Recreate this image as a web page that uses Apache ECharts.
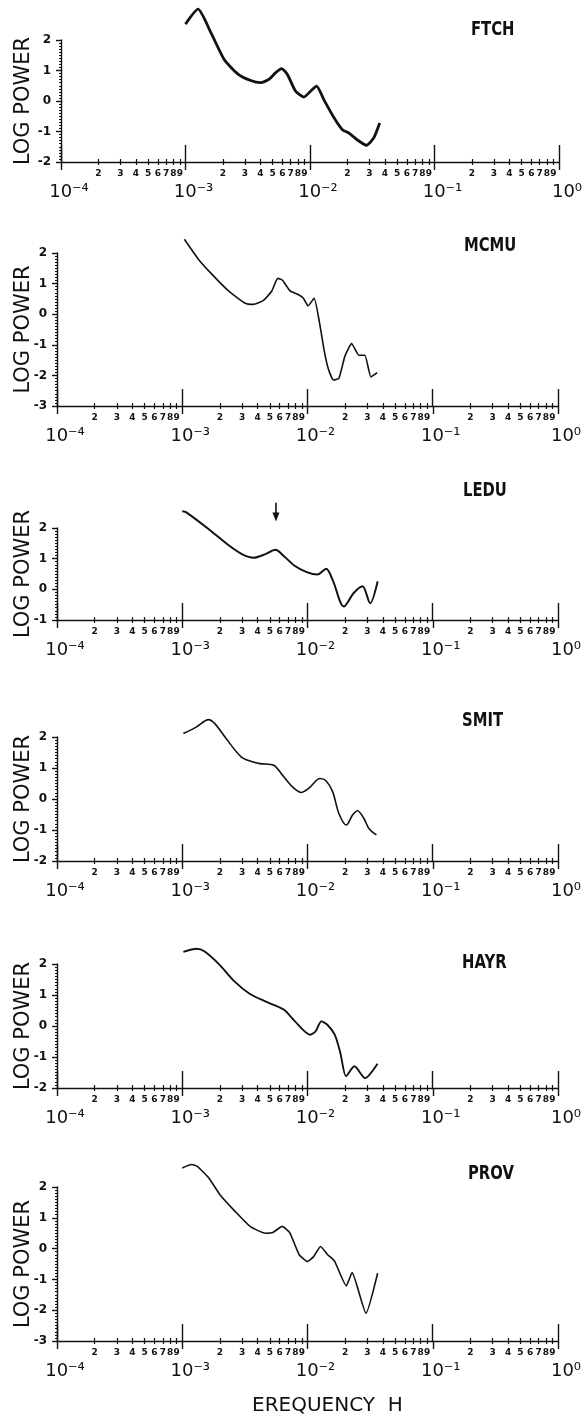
<!DOCTYPE html>
<html>
<head>
<meta charset="utf-8">
<script src="https://cdn.jsdelivr.net/npm/echarts@6/dist/echarts.min.js"></script>
<style>
html,body{margin:0;padding:0;background:#fff;}
#c{width:588px;height:1418px;}
</style>
</head>
<body>
<div id="c"></div>
<script>
// ---------- data ----------
const STATIONS = ['FTCH', 'MCMU', 'LEDU', 'SMIT', 'HAYR', 'PROV'];
const Y_MIN = [-2, -3, -1, -2, -2, -3];
const Y_MAX = [2, 2, 2, 2, 2, 2];
const DECADES = [1e-4, 1e-3, 1e-2, 1e-1, 1];
const DECADE_LABELS = ['10⁻⁴', '10⁻³', '10⁻²', '10⁻¹', '10⁰'];
const MINOR_DIGITS = ['2', '3', '4', '5', '6', '7', '8', '9'];
const Y_NAME = 'LOG POWER';
const X_NAME = 'EREQUENCY  H';

const FTCH_F = [1.00e-3, 1.26e-3, 1.60e-3, 2.04e-3, 2.61e-3, 3.34e-3, 4.02e-3, 4.68e-3, 5.30e-3, 5.92e-3, 6.58e-3, 7.67e-3, 8.93e-3, 1.01e-2, 1.13e-2, 1.29e-2, 1.56e-2, 1.82e-2, 2.05e-2, 2.39e-2, 2.84e-2, 3.25e-2, 3.63e-2];
const FTCH_P = [2.52, 3.01, 2.24, 1.37, 0.90, 0.67, 0.60, 0.71, 0.93, 1.06, 0.87, 0.32, 0.13, 0.32, 0.49, 0.05, -0.55, -0.94, -1.05, -1.27, -1.45, -1.21, -0.72];

const MCMU_F = [1.04e-3, 1.35e-3, 1.73e-3, 2.34e-3, 3.18e-3, 3.70e-3, 4.45e-3, 5.19e-3, 5.79e-3, 6.31e-3, 7.26e-3, 8.36e-3, 9.27e-3, 1.01e-2, 1.13e-2, 1.24e-2, 1.36e-2, 1.47e-2, 1.61e-2, 1.78e-2, 1.99e-2, 2.25e-2, 2.57e-2, 2.87e-2, 3.21e-2, 3.60e-2];
const MCMU_P = [2.45, 1.79, 1.30, 0.76, 0.36, 0.32, 0.45, 0.76, 1.17, 1.11, 0.76, 0.65, 0.52, 0.27, 0.52, -0.22, -1.20, -1.80, -2.15, -2.10, -1.37, -0.96, -1.34, -1.34, -2.05, -1.91];

const LEDU_F = [1.00e-3, 1.07e-3, 1.62e-3, 2.29e-3, 3.02e-3, 3.72e-3, 4.57e-3, 5.55e-3, 6.46e-3, 7.94e-3, 9.86e-3, 1.20e-2, 1.41e-2, 1.59e-2, 1.95e-2, 2.34e-2, 2.75e-2, 3.16e-2, 3.63e-2];
const LEDU_P = [2.55, 2.52, 1.97, 1.47, 1.14, 1.03, 1.14, 1.29, 1.09, 0.76, 0.56, 0.48, 0.67, 0.30, -0.56, -0.12, 0.10, -0.45, 0.26];
const LEDU_ARROW_F = [5.6e-3, 5.6e-3];
const LEDU_ARROW_P = [2.82, 2.36];

const SMIT_F = [1.02e-3, 1.29e-3, 1.62e-3, 1.82e-3, 2.24e-3, 2.95e-3, 3.63e-3, 4.17e-3, 5.37e-3, 6.31e-3, 7.59e-3, 8.91e-3, 1.02e-2, 1.26e-2, 1.41e-2, 1.59e-2, 1.78e-2, 2.04e-2, 2.29e-2, 2.51e-2, 2.82e-2, 3.09e-2, 3.55e-2];
const SMIT_P = [2.11, 2.32, 2.56, 2.43, 1.95, 1.36, 1.20, 1.14, 1.09, 0.77, 0.39, 0.21, 0.34, 0.66, 0.58, 0.23, -0.47, -0.84, -0.52, -0.38, -0.63, -0.95, -1.16];

const HAYR_F = [1.02e-3, 1.30e-3, 1.50e-3, 1.98e-3, 2.61e-3, 3.45e-3, 4.56e-3, 6.46e-3, 7.94e-3, 1.05e-2, 1.16e-2, 1.29e-2, 1.44e-2, 1.65e-2, 1.83e-2, 2.03e-2, 2.37e-2, 2.88e-2, 3.62e-2];
const HAYR_P = [2.39, 2.49, 2.41, 1.98, 1.44, 1.04, 0.80, 0.53, 0.15, -0.28, -0.17, 0.15, 0.04, -0.28, -0.87, -1.62, -1.30, -1.68, -1.22];

const PROV_F = [1.00e-3, 1.19e-3, 1.32e-3, 1.63e-3, 2.00e-3, 2.64e-3, 3.48e-3, 4.60e-3, 5.28e-3, 6.28e-3, 7.21e-3, 8.59e-3, 1.00e-2, 1.12e-2, 1.27e-2, 1.45e-2, 1.64e-2, 2.04e-2, 2.27e-2, 2.93e-2, 3.63e-2];
const PROV_P = [2.62, 2.73, 2.67, 2.29, 1.75, 1.21, 0.72, 0.50, 0.52, 0.72, 0.52, -0.20, -0.42, -0.26, 0.07, -0.20, -0.40, -1.21, -0.78, -2.10, -0.80];

const SERIES_F = [FTCH_F, MCMU_F, LEDU_F, SMIT_F, HAYR_F, PROV_F];
const SERIES_P = [FTCH_P, MCMU_P, LEDU_P, SMIT_P, HAYR_P, PROV_P];

// ---------- layout / style ----------
const LAYOUT = [
  {left: 61, right: 29, top: 40,   height: 122, tx: 471, ty: 20,   lw: 2.8, smooth: 0.2},
  {left: 57, right: 30, top: 253,  height: 153, tx: 464, ty: 236,  lw: 1.6, smooth: 0.15},
  {left: 57, right: 30, top: 528,  height: 92,  tx: 463, ty: 481,  lw: 2.0, smooth: 0.3},
  {left: 57, right: 30, top: 737,  height: 124, tx: 462, ty: 711,  lw: 1.6, smooth: 0.3},
  {left: 57, right: 30, top: 964,  height: 124, tx: 462, ty: 953,  lw: 1.9, smooth: 0.25},
  {left: 57, right: 30, top: 1187, height: 154, tx: 468, ty: 1164, lw: 1.6, smooth: 0.15}
];
const NAME_EDGE = 34; // right edge x of the rotated y-axis title
const INK = '#111';
const FONT = '"DejaVu Sans", sans-serif';

// minor-tick positions in log10 space (for decoration axes)
const DEC_POS = DECADES.map(d => Math.log10(d));
const MINOR_POS = [], MINOR_TXT = [];
for (let d = 0; d < DECADES.length - 1; d++) {
  MINOR_DIGITS.forEach(k => { MINOR_POS.push(Math.log10(DECADES[d] * Number(k))); MINOR_TXT.push(k); });
}
function minorLabel(v) {
  let best = 0, bd = 1e9;
  MINOR_POS.forEach((p, i) => { const dd = Math.abs(p - v); if (dd < bd) { bd = dd; best = i; } });
  return MINOR_TXT[best];
}
function decadeLabel(v) {
  let best = 0, bd = 1e9;
  DECADES.forEach((d, i) => { const dd = Math.abs(Math.log10(d) - Math.log10(v)); if (dd < bd) { bd = dd; best = i; } });
  return DECADE_LABELS[best];
}

const grids = [], xAxes = [], yAxes = [], series = [], graphics = [];

STATIONS.forEach((name, i) => {
  const L = LAYOUT[i];
  grids.push({left: L.left, right: L.right, top: L.top, height: L.height,
    containLabel: false, outerBoundsMode: 'none'});
  const mainIdx = xAxes.length;
  xAxes.push({
    type: 'log', logBase: 10, gridIndex: i, position: 'bottom',
    min: DECADES[0], max: DECADES[DECADES.length - 1], splitNumber: 4,
    axisLine: {show: true, onZero: false, lineStyle: {color: INK, width: 1.4}},
    axisTick: {show: true, inside: true, length: 17, lineStyle: {color: INK, width: 1.4}},
    minorTick: {show: false}, splitLine: {show: false},
    axisLabel: {show: true, margin: 21, fontFamily: FONT, fontSize: 18, color: INK,
      padding: [0, 0, 0, 16], showMinLabel: true, showMaxLabel: true, hideOverlap: false, formatter: decadeLabel}
  });
  const deco = extra => Object.assign({
    type: 'value', gridIndex: i, position: 'bottom', min: DEC_POS[0], max: DEC_POS[DEC_POS.length - 1],
    axisLine: {show: false, onZero: false}, splitLine: {show: false},
    axisLabel: {show: false}, axisTick: {show: false}
  }, extra);
  xAxes.push(deco({
    axisTick: {show: true, inside: false, length: 3, customValues: MINOR_POS, lineStyle: {color: INK, width: 1.2}},
    axisLabel: {show: true, customValues: MINOR_POS, margin: 7, fontSize: 9, fontWeight: 'bold',
      fontFamily: FONT, color: INK, formatter: minorLabel}
  }));
  xAxes.push(deco({
    axisTick: {show: true, inside: true, length: 3, customValues: MINOR_POS, lineStyle: {color: INK, width: 1.2}}
  }));
  xAxes.push(deco({
    axisTick: {show: true, inside: false, length: 8, customValues: DEC_POS, lineStyle: {color: INK, width: 1.4}}
  }));
  yAxes.push({
    type: 'value', gridIndex: i, position: 'left', min: Y_MIN[i], max: Y_MAX[i], interval: 1,
    axisLine: {show: true, onZero: false, lineStyle: {color: INK, width: 1.4}},
    axisTick: {show: true, length: 5, lineStyle: {color: INK, width: 1.4}},
    minorTick: {show: true, splitNumber: 10, length: 2, lineStyle: {color: INK, width: 1}},
    splitLine: {show: false}, minorSplitLine: {show: false},
    axisLabel: {margin: 10, fontSize: 12, fontWeight: 'bold', fontFamily: FONT, color: INK},
    name: Y_NAME, nameLocation: 'middle', nameRotate: 90, nameGap: L.left - NAME_EDGE,
    nameMoveOverlap: false,
    nameTextStyle: {fontSize: 21, fontFamily: FONT, color: INK}
  });
  series.push({
    type: 'line', name: name, xAxisIndex: mainIdx, yAxisIndex: i,
    data: SERIES_F[i].map((f, j) => [f, SERIES_P[i][j]]),
    smooth: L.smooth, showSymbol: false, clip: false, silent: true,
    lineStyle: {color: INK, width: L.lw}
  });
  if (name === 'LEDU') {
    series.push({
      type: 'line', name: 'LEDU arrow', xAxisIndex: mainIdx, yAxisIndex: i, clip: false, silent: true,
      showSymbol: true, showAllSymbol: true,
      data: [
        {value: [LEDU_ARROW_F[0], LEDU_ARROW_P[0]], symbol: 'none'},
        {value: [LEDU_ARROW_F[1], LEDU_ARROW_P[1]], symbol: 'triangle', symbolSize: [7, 9], symbolRotate: 180}
      ],
      lineStyle: {color: INK, width: 1.6}, itemStyle: {color: INK}
    });
  }
  graphics.push({
    type: 'text', x: L.tx, y: L.ty, scaleX: 0.74, silent: true,
    style: {text: name, font: 'bold 20px "DejaVu Sans", sans-serif', fill: INK, align: 'left', verticalAlign: 'top'}
  });
});
graphics.push({
  type: 'text', x: 252, y: 1396, silent: true,
  style: {text: X_NAME, font: '20px "DejaVu Sans", sans-serif', fill: INK, align: 'left', verticalAlign: 'top'}
});

const chart = echarts.init(document.getElementById('c'), null, {renderer: 'canvas'});
chart.setOption({
  backgroundColor: '#fff',
  animation: false,
  graphic: {elements: graphics},
  grid: grids,
  xAxis: xAxes,
  yAxis: yAxes,
  series: series
});
</script>
</body>
</html>
